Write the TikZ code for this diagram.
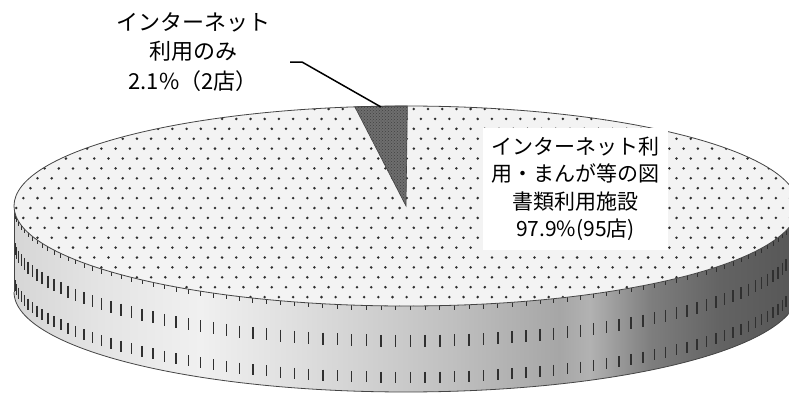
\documentclass[tikz,border=0pt]{standalone}
\usepackage{fontspec}
\newfontfamily\jp{Noto Sans CJK JP}
\usetikzlibrary{patterns}
\definecolor{s0}{HTML}{D6D6D6}
\definecolor{s1}{HTML}{E4E4E4}
\definecolor{s2}{HTML}{F0F0F0}
\definecolor{s3}{HTML}{DEDEDE}
\definecolor{s4}{HTML}{C0C0C0}
\definecolor{s5}{HTML}{A6A6A6}
\definecolor{s6}{HTML}{B2B2B2}
\definecolor{s7}{HTML}{7E7E7E}
\definecolor{s8}{HTML}{636363}
\definecolor{s9}{HTML}{565656}
\definecolor{topgray}{HTML}{F3F3F3}
\definecolor{dotc}{HTML}{2E2E2E}
\definecolor{slicegray}{HTML}{6E6E6E}
\definecolor{edgec}{HTML}{444444}
\definecolor{dashc}{HTML}{303030}
\pgfdeclarehorizontalshading{sideshade}{100bp}{color(0bp)=(s0); color(25bp)=(s0); color(30.5bp)=(s1); color(36.9bp)=(s2); color(43.2bp)=(s3); color(52.8bp)=(s4); color(59.8bp)=(s5); color(61.7bp)=(s6); color(65.6bp)=(s7); color(70bp)=(s8); color(75bp)=(s9); color(100bp)=(s9)}
\tikzset{
  outline/.style={draw=edgec, line width=0.8pt},
  sidedash/.style={draw=dashc, line width=1.4pt},
  sidetick/.style={draw=dashc, line width=0.8pt},
  leader/.style={draw=black, line width=1.5pt},
  lbltext/.style={font=\jp\fontsize{22}{29.5}\selectfont, align=center, inner sep=0pt},
  boxtext/.style={font=\jp\fontsize{21}{27.5}\selectfont, align=center, fill=white, minimum width=185pt, minimum height=122pt, inner sep=0pt}
}
\begin{document}
\begin{tikzpicture}[x=1pt, y=-1pt]
\useasboundingbox (0,0) rectangle (789,394);
\clip (0,0) rectangle (789,394);
% side of the cylinder
\shade[shading=sideshade] plot[domain=180:0, samples=120] ({406+392*cos(\x)},{292+100*sin(\x)})
   -- plot[domain=0:180, samples=120] ({406+392*cos(\x)},{206+100*sin(\x)}) -- cycle;
% side dashes
\foreach \i [evaluate=\i as \xx using {406+392*cos(1.2+\i*2.15)}, evaluate=\i as \yy using {206+100*sin(1.2+\i*2.15)}] in {0,...,82} {
  \draw[sidetick] (\xx,\yy) -- ++(0,4.5);
  \draw[sidedash] (\xx,\yy+29) -- ++(0,12);
  \draw[sidedash] (\xx,\yy+66) -- ++(0,11);
}
\draw[outline] plot[domain=180:0, samples=120] ({406+392*cos(\x)},{292+100*sin(\x)});
\draw[outline] (14,206) -- (14,292);
% top surface
\fill[topgray] (406,206) ellipse [x radius=392pt, y radius=100pt];
\begin{scope}
\clip (406,206) ellipse [x radius=392pt, y radius=100pt];
\foreach \j [evaluate=\j as \yy using {109+\j*9.9}, evaluate=\j as \off using {mod(\j,2)*7.1}] in {0,...,20} {
  \foreach \i in {0,...,56} {
    \fill[dotc] ({2+\i*14.2+\off},\yy) circle (1.4pt);
  }
}
\end{scope}
% small slice
\fill[slicegray] (406,206) -- plot[domain=-97.5:-89.8, samples=10] ({406+392*cos(\x)},{206+100*sin(\x)}) -- cycle;
\fill[pattern=crosshatch dots, pattern color=black!75] (406,206) -- plot[domain=-97.5:-89.8, samples=10] ({406+392*cos(\x)},{206+100*sin(\x)}) -- cycle;
\draw[draw=edgec, line width=0.6pt] (406,206) -- plot[domain=-97.5:-89.8, samples=10] ({406+392*cos(\x)},{206+100*sin(\x)}) -- cycle;
\draw[outline] (406,206) ellipse [x radius=392pt, y radius=100pt];
% labels
\node[lbltext] (small) at (193,52) {インターネット\\利用のみ\\2.1\%（2店）};
\node[boxtext] (big) at (575.5,189) {インターネット利\\用・まんが等の図\\書類利用施設\\97.9\%(95店)};
\coordinate (lead) at (290,62);
\coordinate (tip) at (381,107);
\draw[leader] (lead) -- ++(12,0) -- (tip);
\end{tikzpicture}
\end{document}
